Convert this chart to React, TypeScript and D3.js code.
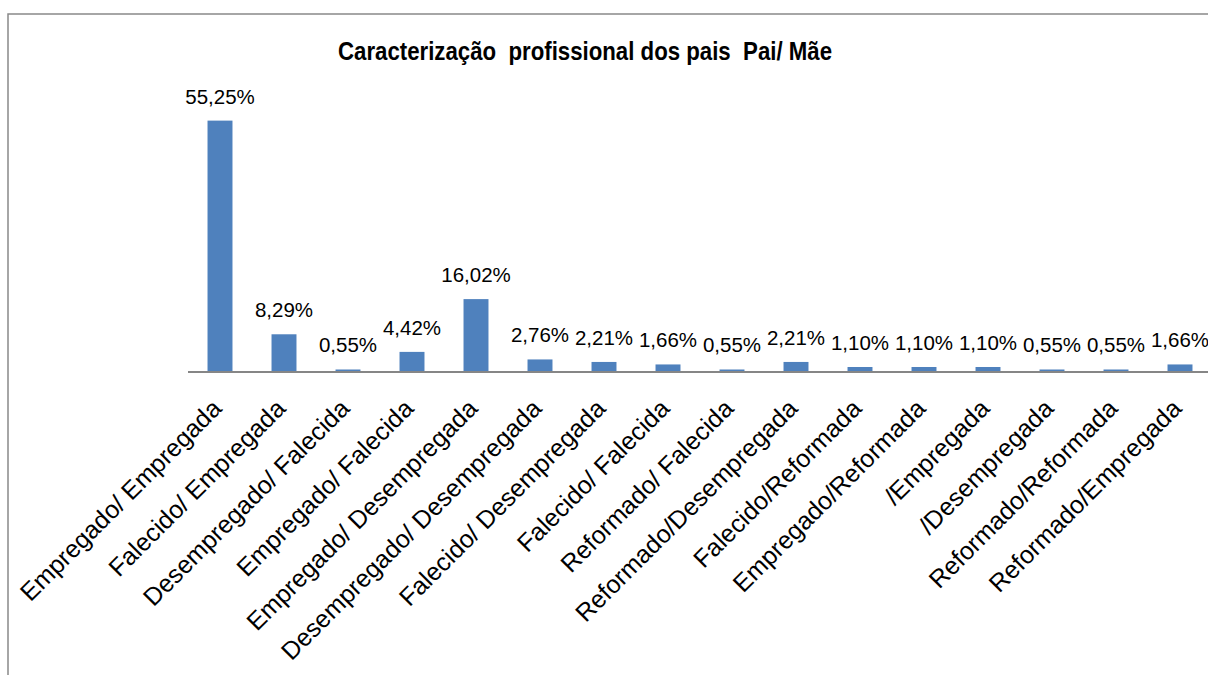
import React, { useRef, useEffect } from 'react';
import * as d3 from 'd3';

const title = 'Caracterização  profissional dos pais  Pai/ Mãe';

const categories = [
  'Empregado/ Empregada',
  'Falecido/ Empregada',
  'Desempregado/ Falecida',
  'Empregado/ Falecida',
  'Empregado/ Desempregada',
  'Desempregado/ Desempregada',
  'Falecido/ Desempregada',
  'Falecido/ Falecida',
  'Reformado/ Falecida',
  'Reformado/Desempregada',
  'Falecido/Reformada',
  'Empregado/Reformada',
  '/Empregada',
  '/Desempregada',
  'Reformado/Reformada',
  'Reformado/Empregada',
];

const values = [55.25, 8.29, 0.55, 4.42, 16.02, 2.76, 2.21, 1.66, 0.55, 2.21, 1.1, 1.1, 1.1, 0.55, 0.55, 1.66];

const valueLabels = values.map((v) => v.toFixed(2).replace('.', ',') + '%');

const App: React.FC = () => {
  const svgRef = useRef<SVGSVGElement>(null);

  useEffect(() => {
    if (!svgRef.current) return;
    const svg = d3.select(svgRef.current);
    svg.selectAll('*').remove();

    const width = 1208;
    const height = 675;
    const axisY = 372;

    // Chart frame (runs off the right and bottom edges)
    svg
      .append('rect')
      .attr('x', 8)
      .attr('y', 14)
      .attr('width', 1300)
      .attr('height', 800)
      .attr('fill', '#fff')
      .attr('stroke', '#898989')
      .attr('stroke-width', 1.5);

    const x = d3
      .scaleBand<string>()
      .domain(categories)
      .range([188, 1212])
      .paddingInner(0.61)
      .paddingOuter(0.305);

    const y = d3.scaleLinear().domain([0, 60]).range([axisY, 99]);

    // Title
    svg
      .append('text')
      .attr('x', 585)
      .attr('y', 60)
      .attr('text-anchor', 'middle')
      .attr('font-family', 'Liberation Sans, Arial, sans-serif')
      .attr('font-weight', 'bold')
      .attr('font-size', 25)
      .attr('textLength', 494)
      .attr('lengthAdjust', 'spacingAndGlyphs')
      .style('white-space', 'pre')
      .attr('fill', '#000')
      .text(title);

    // Bars
    svg
      .selectAll('.bar')
      .data(values)
      .enter()
      .append('rect')
      .attr('class', 'bar')
      .attr('x', (_, i) => x(categories[i])!)
      .attr('y', (d) => y(d))
      .attr('width', x.bandwidth())
      .attr('height', (d) => axisY - y(d))
      .attr('fill', '#4F81BD');

    // Category axis line
    svg
      .append('line')
      .attr('x1', 188)
      .attr('x2', width)
      .attr('y1', axisY)
      .attr('y2', axisY)
      .attr('stroke', '#868686')
      .attr('stroke-width', 2);

    // Value labels
    svg
      .selectAll('.vlabel')
      .data(values)
      .enter()
      .append('text')
      .attr('class', 'vlabel')
      .attr('x', (_, i) => x(categories[i])! + x.bandwidth() / 2)
      .attr('y', (d) => y(d) - 17)
      .attr('text-anchor', 'middle')
      .attr('font-family', 'Liberation Sans, Arial, sans-serif')
      .attr('font-size', 20.5)
      .attr('fill', '#000')
      .text((_, i) => valueLabels[i]);

    // Category labels
    svg
      .selectAll('.clabel')
      .data(categories)
      .enter()
      .append('text')
      .attr('class', 'clabel')
      .attr('transform', (d) => `translate(${x(d)! + x.bandwidth() / 2 + 3},410) rotate(-45)`)
      .attr('text-anchor', 'end')
      .attr('font-family', 'Liberation Sans, Arial, sans-serif')
      .attr('font-size', 25)
      .attr('fill', '#000')
      .style('white-space', 'pre')
      .text((d) => d);

    svg.attr('width', width).attr('height', height);
  }, []);

  return (
    <svg
      ref={svgRef}
      width={1208}
      height={675}
      style={{ position: 'absolute', left: 0, top: 0, display: 'block', background: '#fff' }}
    />
  );
};

export default App;
